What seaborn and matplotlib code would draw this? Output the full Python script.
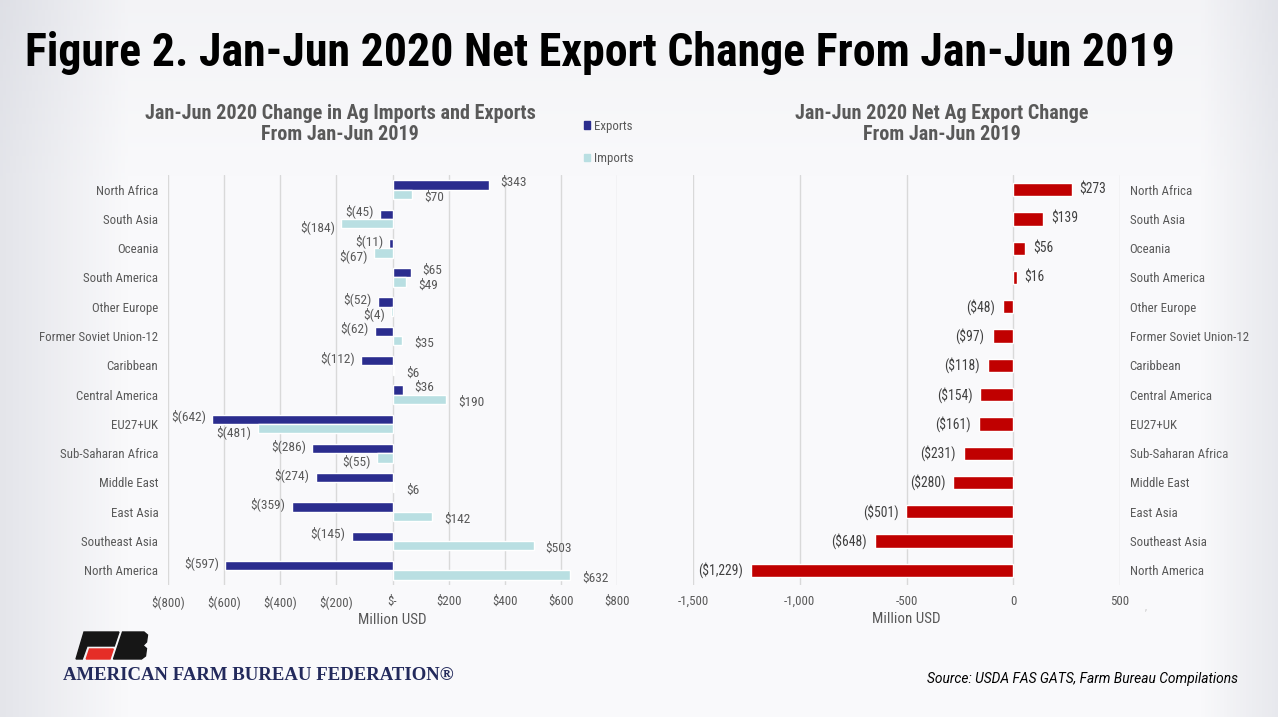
import numpy as np
import pandas as pd
import matplotlib
matplotlib.use('Agg')
import matplotlib.pyplot as plt
from matplotlib.colors import LinearSegmentedColormap
from matplotlib.patches import Patch, Polygon
import seaborn as sns

regions = ['North Africa', 'South Asia', 'Oceania', 'South America', 'Other Europe',
           'Former Soviet Union-12', 'Caribbean', 'Central America', 'EU27+UK',
           'Sub-Saharan Africa', 'Middle East', 'East Asia', 'Southeast Asia', 'North America']
exports = [343, -45, -11, 65, -52, -62, -112, 36, -642, -286, -274, -359, -145, -597]
imports = [70, -184, -67, 49, -4, 35, 6, 190, -481, -55, 6, 142, 503, 632]
net_change = [273, 139, 56, 16, -48, -97, -118, -154, -161, -231, -280, -501, -648, -1229]

left_ticks = [-800, -600, -400, -200, 0, 200, 400, 600, 800]
right_ticks = [-1500, -1000, -500, 0, 500]

c_exp = '#2b2d8e'
c_imp = '#b9dfe2'
c_net = '#c00000'
grey = '#595959'
font = ['Roboto Condensed', 'Archivo Narrow', 'Roboto', 'DejaVu Sans']

sns.set_theme(style='white')
plt.rcParams['font.family'] = font

W, H = 1278, 717
fig = plt.figure(figsize=(W / 100, H / 100), dpi=100)
fig.patch.set_facecolor('#f5f5f8')

# soft grey edges like the slide background
bg = fig.add_axes([0, 0, 1, 1], zorder=-5)
xx, yy = np.meshgrid(np.linspace(0, 1, 400), np.linspace(0, 1, 220))
shade = np.clip(1 - xx / 0.10, 0, 1) * 0.55 + np.clip(1 - (1 - xx) / 0.06, 0, 1) * 0.45 \
    + np.clip(1 - yy / 0.25, 0, 1) * 0.15
cmap = LinearSegmentedColormap.from_list('bg', ['#f9f9fb', '#d3d5dd'])
bg.imshow(shade, cmap=cmap, vmin=0, vmax=1, aspect='auto', extent=[0, 1, 0, 1])
bg.axis('off')


def box(x0, y0, x1, y1):
    return [x0 / W, 1 - y1 / H, (x1 - x0) / W, (y1 - y0) / H]


def acct(v):
    if v == 0:
        return '$-'
    return f'$({abs(v)})' if v < 0 else f'${v}'


def style_axis(ax):
    ax.set_facecolor('none')
    ax.grid(axis='x', color='#d9d9d9', linewidth=1)
    ax.set_axisbelow(True)
    for s in ax.spines.values():
        s.set_visible(False)
    ax.tick_params(axis='both', length=0, labelsize=9.3, colors=grey, pad=7)
    ax.set_xlabel('Million USD', fontsize=10.8, color=grey, labelpad=3)


# ---- left chart: exports vs imports
df = pd.DataFrame({'Region': regions * 2,
                   'Value': exports + imports,
                   'Series': ['Exports'] * len(regions) + ['Imports'] * len(regions)})

ax1 = fig.add_axes(box(168, 175, 617, 585))
sns.barplot(data=df, y='Region', x='Value', hue='Series', orient='h',
            palette=[c_exp, c_imp], saturation=1, width=0.64, ax=ax1, legend=False)
ax1.set_xlim(-800, 800)
ax1.set_xticks(left_ticks)
ax1.set_xticklabels([acct(v) for v in left_ticks])
ax1.set_ylabel('')
style_axis(ax1)

for cont, vals, dy in zip(ax1.containers, [exports, imports], [-3, 3]):
    for p, v in zip(cont.patches, vals):
        yc = p.get_y() + p.get_height() / 2
        end = p.get_x() + p.get_width()
        ax1.annotate(acct(v), (end, yc), xytext=(12 if v >= 0 else -6, -dy),
                     textcoords='offset pixels',
                     ha='left' if v >= 0 else 'right', va='center',
                     fontsize=9.6, color=grey)

fig.legend(handles=[Patch(color=c_exp), Patch(color=c_imp)], labels=['Exports', 'Imports'],
           loc='upper left', bbox_to_anchor=(572 / W, 1 - 108 / H), frameon=False,
           handlelength=0.5, handleheight=0.5, handletextpad=0.3, labelspacing=1.5,
           fontsize=9.3, labelcolor=grey)

fig.text(340 / W, 1 - 124 / H, 'Jan-Jun 2020 Change in Ag Imports and Exports\nFrom Jan-Jun 2019',
         ha='center', va='center', fontsize=14.5, fontweight='bold', color=grey, linespacing=1.1)

# ---- right chart: net change
ax2 = fig.add_axes(box(693, 175, 1120, 585))
sns.barplot(x=net_change, y=regions, orient='h', color=c_net, width=0.45,
            saturation=1, ax=ax2)
ax2.set_xlim(-1500, 500)
ax2.set_xticks(right_ticks)
ax2.set_xticklabels([f'{v:,}' for v in right_ticks])
ax2.yaxis.tick_right()
style_axis(ax2)

for p, v in zip(ax2.containers[0].patches, net_change):
    yc = p.get_y() + p.get_height() / 2
    end = p.get_x() + p.get_width()
    lab = f'${v:,}' if v >= 0 else f'(${abs(v):,})'
    ax2.annotate(lab, (end, yc), xytext=(8 if v >= 0 else -8, 0),
                 textcoords='offset pixels', ha='left' if v >= 0 else 'right',
                 va='center', fontsize=9.8, color='#404040')

fig.text(942 / W, 1 - 124 / H, 'Jan-Jun 2020 Net Ag Export Change\nFrom Jan-Jun 2019',
         ha='center', va='center', fontsize=14.5, fontweight='bold', color=grey, linespacing=1.1)
fig.text(1146 / W, 1 - 606 / H, ',', fontsize=7, color='#bfbfbf', ha='center', va='center')

# ---- header and footer
fig.text(25 / W, 1 - 53 / H, 'Figure 2. Jan-Jun 2020 Net Export Change From Jan-Jun 2019',
         ha='left', va='center', fontsize=33, fontweight='bold', color='black')

fig.text(1238 / W, 1 - 679 / H, 'Source: USDA FAS GATS, Farm Bureau Compilations',
         ha='right', va='center', fontsize=9.9, style='italic', color='black',
         family=['Roboto', 'DejaVu Sans'])

# farm bureau logo (rough)
lg = fig.add_axes([0, 0, 1, 1], zorder=3)
lg.set_xlim(0, W)
lg.set_ylim(H, 0)
lg.axis('off')
lg.add_patch(Polygon([(84, 632), (119, 632), (114.3, 646), (87, 646), (82.3, 659), (76, 659)],
                     closed=True, color='#161616'))
lg.add_patch(Polygon([(89.5, 649), (113.3, 649), (110, 659), (86.2, 659)],
                     closed=True, color='#e52d27'))
lg.add_patch(Polygon([(122.5, 632), (144, 632), (147.5, 635), (146.5, 642), (143, 645.5),
                      (146.5, 648.5), (145.5, 656), (141.5, 659), (113.5, 659)],
                     closed=True, color='#161616'))
fig.text(63 / W, 1 - 676 / H, 'AMERICAN FARM BUREAU FEDERATION\u00ae', ha='left', va='center',
         fontsize=13.5, fontweight='bold', color='#232a5c', family=['Liberation Serif', 'DejaVu Serif'])

fig.savefig('out.png', dpi=100, facecolor=fig.get_facecolor())
